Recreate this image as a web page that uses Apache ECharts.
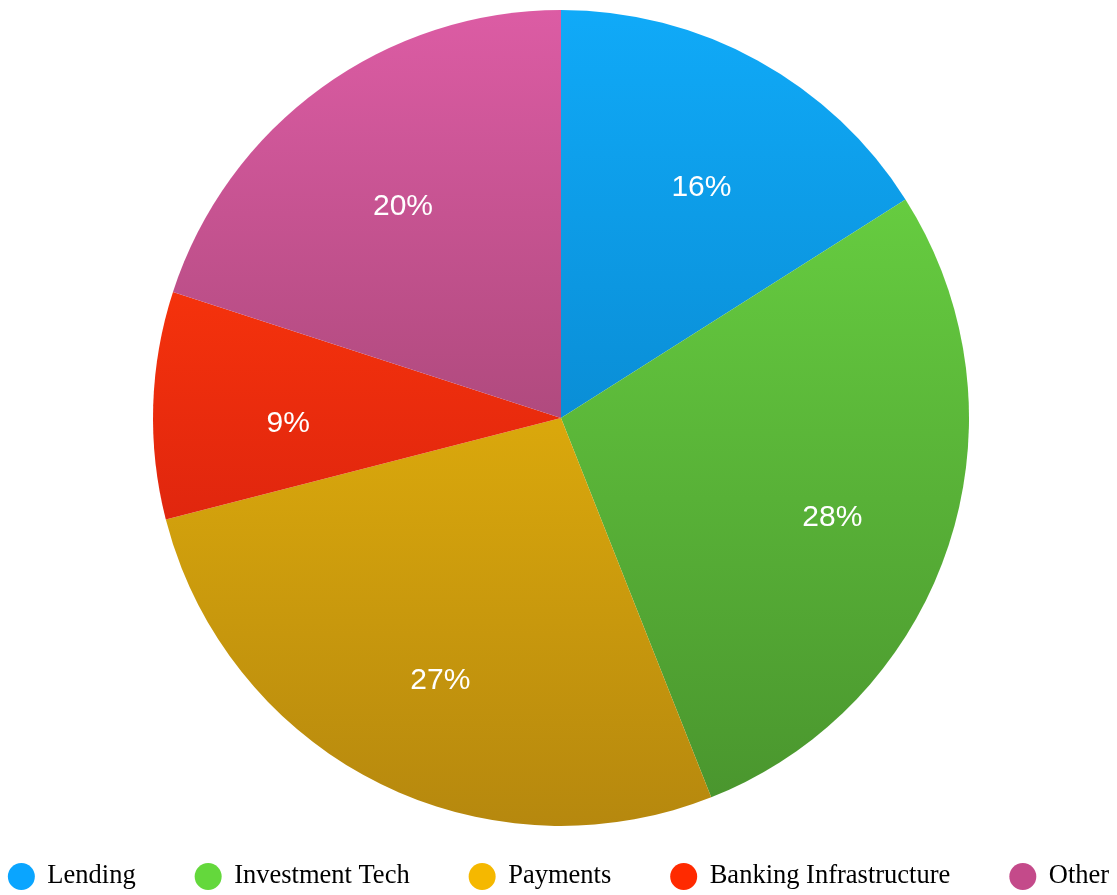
<!DOCTYPE html>
<html>
<head>
<meta charset="utf-8">
<script src="https://cdn.jsdelivr.net/npm/echarts@6/dist/echarts.min.js"></script>
<style>
html,body{margin:0;padding:0;background:#fff;}
#chart{width:1117px;height:895px;}
</style>
</head>
<body>
<div id="chart"></div>
<script>
const categories = ['Lending', 'Investment Tech', 'Payments', 'Banking Infrastructure', 'Other'];
const shares = [16, 28, 27, 9, 20];
const legendColors = ['#0aa5ff', '#64d83c', '#f5b800', '#ff2a00', '#c44a8a'];
const topColors = ['#10aaf8', '#66cc40', '#daa80c', '#f5320c', '#dc5ca4'];
const bottomColors = ['#0a8ed6', '#4a962e', '#b6880e', '#e0260e', '#b04a7e'];

function grad(i) {
  return new echarts.graphic.LinearGradient(0, 0, 0, 1, [
    {offset: 0, color: topColors[i]},
    {offset: 1, color: bottomColors[i]}
  ]);
}

const mainData = categories.map((c, i) => ({
  name: c, value: shares[i], itemStyle: {color: grad(i)}
}));
const labelData = categories.map((c, i) => ({
  name: c, value: shares[i]
}));

const chart = echarts.init(document.getElementById('chart'), null, {renderer: 'canvas'});
chart.setOption({
  animation: false,
  backgroundColor: '#ffffff',
  legend: {
    bottom: 0,
    left: 'center',
    itemWidth: 42,
    itemHeight: 27,
    itemGap: 59,
    icon: 'circle',
    textStyle: {fontFamily: '"Liberation Serif", "Times New Roman", serif', fontSize: 26.5, color: '#000'},
    data: categories.map((c, i) => ({name: c, itemStyle: {color: legendColors[i]}}))
  },
  series: [
    {
      type: 'pie',
      center: [561, 418],
      radius: [0, 408],
      startAngle: 90,
      clockwise: true,
      data: mainData,
      label: {show: false},
      labelLine: {show: false},
      itemStyle: {borderWidth: 0},
      emphasis: {disabled: true}
    },
    {
      type: 'pie',
      center: [567, 432],
      radius: [144, 408],
      startAngle: 90,
      clockwise: true,
      silent: true,
      data: labelData,
      itemStyle: {color: 'rgba(0,0,0,0)'},
      label: {
        show: true,
        position: 'inside',
        formatter: '{c}%',
        color: '#ffffff',
        fontSize: 30,
        fontFamily: '"Liberation Sans", Arial, Helvetica, sans-serif',
        textBorderWidth: 0
      },
      labelLine: {show: false},
      emphasis: {disabled: true}
    }
  ]
});
</script>
</body>
</html>
